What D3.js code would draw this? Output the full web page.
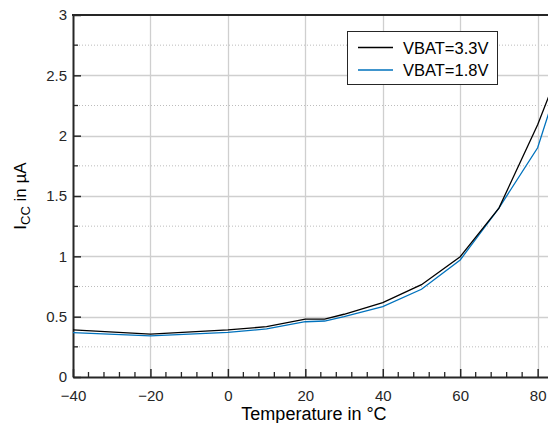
<!DOCTYPE html>
<html><head><meta charset="utf-8">
<script src="https://cdn.jsdelivr.net/npm/d3@7"></script>
<style>
html,body{margin:0;padding:0;background:#fff;overflow:hidden;}
svg{display:block;font-family:"Liberation Sans",Arial,sans-serif;}
</style></head>
<body><svg id="chart" width="548" height="423"></svg>
<script>
const temps = [-40, -20, 0, 10, 20, 25, 30, 40, 50, 60, 70, 80, 85];
const vbat33 = [0.39, 0.356, 0.39, 0.417, 0.48, 0.48, 0.52, 0.616, 0.765, 0.997, 1.40, 2.09, 2.50];
const vbat18 = [0.367, 0.34, 0.37, 0.398, 0.458, 0.464, 0.50, 0.583, 0.727, 0.97, 1.40, 1.90, 2.40];
const seriesNames = ["VBAT=3.3V", "VBAT=1.8V"];
const seriesColors = ["#000000", "#0072bd"];
const xTicks = [-40, -20, 0, 20, 40, 60, 80];
const yTicks = [0, 0.5, 1, 1.5, 2, 2.5, 3];

const svg = d3.select("#chart");
const mLeft = 73, mTop = 15, mBottom = 377, mRight = 557;
const x = d3.scaleLinear().domain([-40, 85]).range([mLeft, mRight]);
const y = d3.scaleLinear().domain([0, 3]).range([mBottom, mTop]);

// minor dotted grid
const minorY = d3.range(0.25, 3, 0.5);
svg.append("g").selectAll("line").data(minorY).join("line")
  .attr("x1", mLeft).attr("x2", mRight).attr("y1", d => y(d)).attr("y2", d => y(d))
  .attr("stroke", "#bdbdbd").attr("stroke-width", 1).attr("stroke-dasharray", "1,2");
// major grid
svg.append("g").selectAll("line").data(yTicks.slice(1, -1)).join("line")
  .attr("x1", mLeft).attr("x2", mRight).attr("y1", d => Math.round(y(d)) + 0.5).attr("y2", d => Math.round(y(d)) + 0.5)
  .attr("stroke", "#cfcfcf").attr("stroke-width", 1.3);
svg.append("g").selectAll("line").data(xTicks.slice(1)).join("line")
  .attr("y1", mTop).attr("y2", mBottom).attr("x1", d => Math.round(x(d)) + 0.5).attr("x2", d => Math.round(x(d)) + 0.5)
  .attr("stroke", "#cfcfcf").attr("stroke-width", 1.3);

// axes
const xAxis = d3.axisBottom(x).tickValues(xTicks).tickSizeInner(-8).tickSizeOuter(0).tickPadding(13)
  .tickFormat(d => d < 0 ? "\u2212" + Math.abs(d) : d);
const gx = svg.append("g").attr("transform", `translate(0,${mBottom})`).call(xAxis);
gx.select(".domain").attr("stroke", "#262626").attr("stroke-width", 2);
gx.selectAll(".tick line").attr("stroke", "#262626").attr("stroke-width", 1.5);
gx.selectAll("text").attr("font-size", 15).attr("fill", "#262626");
// minor x ticks
const minorX = d3.range(-40, 86, 4).filter(v => !xTicks.includes(v));
svg.append("g").selectAll("line").data(minorX).join("line")
  .attr("x1", d => x(d)).attr("x2", d => x(d)).attr("y1", mBottom).attr("y2", mBottom - 5)
  .attr("stroke", "#262626").attr("stroke-width", 1.3);

const yAxis = d3.axisLeft(y).tickValues(yTicks).tickSizeInner(-8).tickSizeOuter(0).tickPadding(6)
  .tickFormat(d => d3.format("")(d));
const gy = svg.append("g").attr("transform", `translate(${mLeft},0)`).call(yAxis);
gy.select(".domain").attr("stroke", "#262626").attr("stroke-width", 2);
gy.selectAll(".tick line").attr("stroke", "#262626").attr("stroke-width", 1.5);
gy.selectAll("text").attr("font-size", 15).attr("fill", "#262626");
svg.append("g").selectAll("line").data(minorY).join("line")
  .attr("x1", mLeft).attr("x2", mLeft + 5).attr("y1", d => y(d)).attr("y2", d => y(d))
  .attr("stroke", "#262626").attr("stroke-width", 1.3);
// top border
svg.append("line").attr("x1", mLeft - 1).attr("x2", mRight).attr("y1", mTop).attr("y2", mTop)
  .attr("stroke", "#262626").attr("stroke-width", 2);

// lines
const line = d3.line().x((d, i) => x(temps[i])).y(d => y(d));
[vbat18, vbat33].forEach((vals, k) => {
  const idx = k === 0 ? 1 : 0;
  svg.append("path").datum(vals).attr("d", line).attr("fill", "none")
    .attr("stroke", seriesColors[idx]).attr("stroke-width", 1.3);
});

// legend
const lg = svg.append("g");
lg.append("rect").attr("x", 347.5).attr("y", 31.5).attr("width", 150).attr("height", 53)
  .attr("fill", "#fff").attr("stroke", "#262626").attr("stroke-width", 1);
seriesNames.forEach((n, i) => {
  const yy = 47.5 + i * 22.5;
  lg.append("line").attr("x1", 358).attr("x2", 393).attr("y1", yy).attr("y2", yy)
    .attr("stroke", seriesColors[i]).attr("stroke-width", 1.3);
  lg.append("text").attr("x", 403).attr("y", yy + 6).attr("font-size", 16.5).attr("fill", "#000").text(n);
});

// axis labels
svg.append("text").attr("x", 314).attr("y", 420).attr("text-anchor", "middle")
  .attr("font-size", 18).attr("fill", "#000").text("Temperature in \u00B0C");
const yl = svg.append("text").attr("transform", "translate(26,196) rotate(-90)").attr("text-anchor", "middle")
  .attr("font-size", 17).attr("fill", "#000");
yl.append("tspan").text("I");
yl.append("tspan").attr("font-size", 13).attr("dy", 4).text("CC");
yl.append("tspan").attr("dy", -4).text(" in \u00B5A");
</script></body></html>
